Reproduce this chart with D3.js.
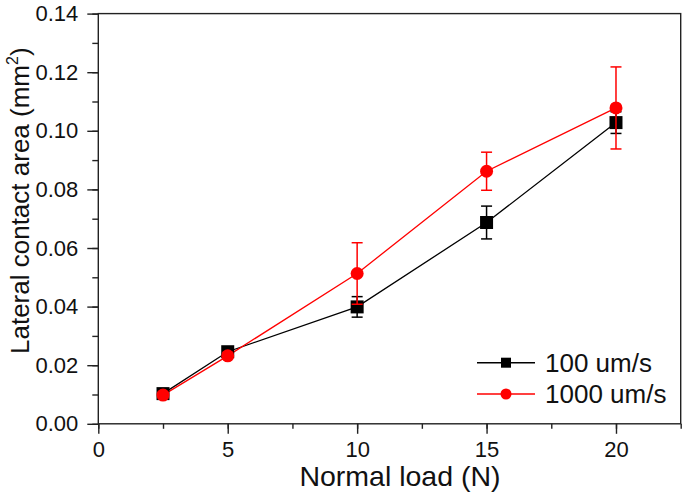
<!DOCTYPE html>
<html>
<head>
<meta charset="utf-8">
<script src="https://cdn.jsdelivr.net/npm/d3@7"></script>
<style>
  html, body { margin: 0; padding: 0; background: #fff; }
  svg { display: block; }
  text { font-family: "Liberation Sans", Arial, sans-serif; fill: #111; }
</style>
</head>
<body>
<svg id="chart" width="685" height="494"></svg>
<script>
const loads = [2.5, 5, 10, 15, 20];
const area100 = [0.0103, 0.0246, 0.0399, 0.0687, 0.1028];
const err100 = [0.0010, 0.0010, 0.0035, 0.0056, 0.0037];
const area1000 = [0.0098, 0.0232, 0.0513, 0.0862, 0.1078];
const err1000 = [0.0010, 0.0010, 0.0105, 0.0065, 0.0140];
const seriesNames = ["100 um/s", "1000 um/s"];
const xTicks = [0, 5, 10, 15, 20];
const yTicks = [0.00, 0.02, 0.04, 0.06, 0.08, 0.10, 0.12, 0.14];

const svg = d3.select("#chart");
const L = 98.3, R = 680.7, T = 13.6, B = 423.8;
const x = d3.scaleLinear().domain([0, 22.5]).range([L, R]);
const y = d3.scaleLinear().domain([0, 0.14]).range([B, T]);

// frame
svg.append("rect").attr("x", L).attr("y", T).attr("width", R - L).attr("height", B - T)
  .attr("fill", "none").attr("stroke", "#222").attr("stroke-width", 1.4);

// x axis
const xAxis = svg.append("g").attr("transform", `translate(0,${B})`);
xAxis.call(d3.axisBottom(x).tickValues(d3.range(0, 22.6, 2.5)).tickSize(5).tickFormat(""))
  .call(g => g.select(".domain").remove());
xAxis.append("g").call(d3.axisBottom(x).tickValues(xTicks).tickSize(10).tickPadding(8).tickFormat(d3.format("d")))
  .call(g => g.select(".domain").remove())
  .call(g => g.selectAll("text").attr("font-size", 22).attr("fill", "#111").attr("font-family", "Liberation Sans, Arial, sans-serif"));
xAxis.selectAll("line").attr("stroke", "#222").attr("stroke-width", 1.4);

// y axis
const yAxis = svg.append("g").attr("transform", `translate(${L},0)`);
yAxis.call(d3.axisLeft(y).tickValues(d3.range(0, 0.1401, 0.01)).tickSize(6).tickFormat(""))
  .call(g => g.select(".domain").remove());
yAxis.append("g").call(d3.axisLeft(y).tickValues(yTicks).tickSize(11).tickPadding(9).tickFormat(d3.format(".2f")))
  .call(g => g.select(".domain").remove())
  .call(g => g.selectAll("text").attr("font-size", 22).attr("fill", "#111").attr("font-family", "Liberation Sans, Arial, sans-serif"));
yAxis.selectAll("line").attr("stroke", "#222").attr("stroke-width", 1.4);

// axis titles
svg.append("text").attr("x", 400).attr("y", 486).attr("text-anchor", "middle")
  .attr("font-size", 28.5).text("Normal load (N)");
const yl = svg.append("text").attr("transform", `translate(29,${(T + B) / 2 - 18}) rotate(-90)`)
  .attr("text-anchor", "middle").attr("font-size", 26);
yl.append("tspan").text("Lateral contact area (mm");
yl.append("tspan").attr("font-size", 16).attr("dy", -11).text("2");
yl.append("tspan").attr("dy", 11).text(")");

const series = [
  { vals: area100, errs: err100, color: "#000", shape: "square" },
  { vals: area1000, errs: err1000, color: "#ff0000", shape: "circle" }
];
const line = d3.line().x((d, i) => x(loads[i])).y(d => y(d));

series.forEach(s => {
  svg.append("path").datum(s.vals).attr("d", line)
    .attr("fill", "none").attr("stroke", s.color).attr("stroke-width", 1.3);
});

series.forEach(s => {
  const g = svg.append("g");
  s.vals.forEach((v, i) => {
    const cx = x(loads[i]);
    const y1 = y(v + s.errs[i]), y2 = y(v - s.errs[i]);
    g.append("line").attr("x1", cx).attr("x2", cx).attr("y1", y1).attr("y2", y2)
      .attr("stroke", s.color).attr("stroke-width", 1.5);
    [y1, y2].forEach(yy => g.append("line").attr("x1", cx - 5.5).attr("x2", cx + 5.5)
      .attr("y1", yy).attr("y2", yy).attr("stroke", s.color).attr("stroke-width", 1.5));
    if (s.shape === "square") {
      g.append("rect").attr("x", cx - 6.5).attr("y", y(v) - 6.5).attr("width", 13).attr("height", 13)
        .attr("fill", s.color);
    } else {
      g.append("circle").attr("cx", cx).attr("cy", y(v)).attr("r", 6.5).attr("fill", s.color);
    }
  });
});

// legend
const legY = [362.7, 394];
series.forEach((s, i) => {
  const g = svg.append("g");
  g.append("line").attr("x1", 477).attr("x2", 535).attr("y1", legY[i]).attr("y2", legY[i])
    .attr("stroke", s.color).attr("stroke-width", 1.4);
  if (s.shape === "square") {
    g.append("rect").attr("x", 506 - 5).attr("y", legY[i] - 5).attr("width", 10).attr("height", 10).attr("fill", s.color);
  } else {
    g.append("circle").attr("cx", 506).attr("cy", legY[i]).attr("r", 5.5).attr("fill", s.color);
  }
  g.append("text").attr("x", 545).attr("y", legY[i]).attr("dy", "0.36em")
    .attr("font-size", 26).text(seriesNames[i]);
});
</script>
</body>
</html>
